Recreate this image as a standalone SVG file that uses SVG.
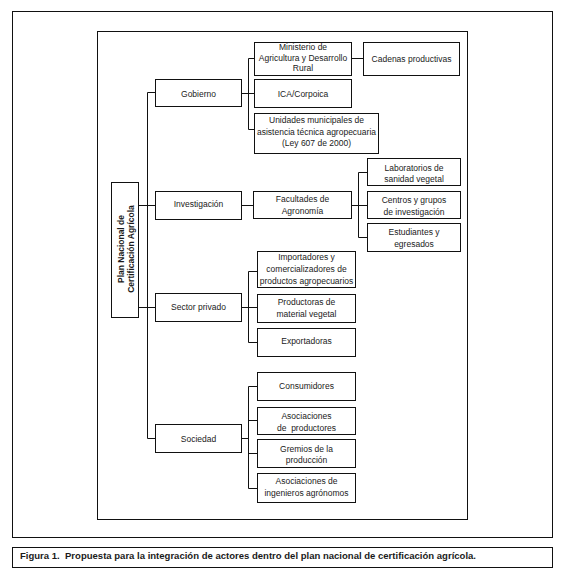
<svg xmlns="http://www.w3.org/2000/svg" width="564" height="582" viewBox="0 0 564 582">
<style>
.frame{fill:none;stroke:#111;stroke-width:1}
.box{fill:#fff;stroke:#111;stroke-width:1}
.t{font-family:"Liberation Sans",Arial,sans-serif;font-size:8.5px;fill:#1a1a1a;text-anchor:middle}
.b{font-weight:bold}
.ln{fill:none;stroke:#111;stroke-width:1}
</style>
<rect x="0" y="0" width="564" height="582" fill="#fff"/>
<rect class="frame" x="12.5" y="11.5" width="540" height="526"/>
<rect class="frame" x="97.5" y="31.5" width="370" height="488"/>
<rect class="frame" x="12.5" y="547.5" width="540" height="20"/>
<text class="t b" x="20" y="558.5" style="text-anchor:start;font-size:9.5px" textLength="456" lengthAdjust="spacingAndGlyphs" xml:space="preserve">Figura 1.  Propuesta para la integración de actores dentro del plan nacional de certificación agrícola.</text>

<g id="connectors">
<path class="ln" d="M155 92.5H147.5V438.5H155"/>
<path class="ln" d="M138 205.5H155M138 307.5H155"/>
<path class="ln" d="M241 93.5H248.5M254 58.5H248.5V129.5H254M248.5 93.5H254"/>
<path class="ln" d="M351 58.5H363"/>
<path class="ln" d="M241 205.5H253"/>
<path class="ln" d="M351 205.5H367M367 172.5H358.5V237.5H367"/>
<path class="ln" d="M241 307.5H257M257 271.5H248.5V342.5H257"/>
<path class="ln" d="M241 438.5H248.5M257 386.5H248.5V488.5H257M248.5 420.5H257M248.5 453.5H257"/>
</g>

<g id="plan">
<rect class="box" x="111.5" y="182.5" width="27" height="135"/>
<text class="t b" transform="translate(123.5 249) rotate(-90)">Plan Nacional de</text>
<text class="t b" transform="translate(133.5 249) rotate(-90)">Certificación Agrícola</text>
</g>

<g id="gobierno">
<rect class="box" x="155.5" y="79.5" width="86" height="27"/>
<text class="t" x="198.5" y="96.5">Gobierno</text>
</g>
<g id="investigacion">
<rect class="box" x="155.5" y="191.5" width="86" height="28"/>
<text class="t" x="198.5" y="207">Investigación</text>
</g>
<g id="sector-privado">
<rect class="box" x="155.5" y="293.5" width="86" height="28"/>
<text class="t" x="198.5" y="309.5">Sector privado</text>
</g>
<g id="sociedad">
<rect class="box" x="155.5" y="424.5" width="86" height="28"/>
<text class="t" x="198.5" y="442">Sociedad</text>
</g>

<g id="ministerio">
<rect class="box" x="254.5" y="42.5" width="97" height="33"/>
<text class="t" x="303" y="50">Ministerio de</text>
<text class="t" x="303" y="61">Agricultura y Desarrollo</text>
<text class="t" x="303" y="71">Rural</text>
</g>
<g id="cadenas">
<rect class="box" x="363.5" y="42.5" width="96" height="33"/>
<text class="t" x="411.5" y="62">Cadenas productivas</text>
</g>
<g id="ica">
<rect class="box" x="254.5" y="79.5" width="97" height="28"/>
<text class="t" x="303" y="96.5">ICA/Corpoica</text>
</g>
<g id="unidades">
<rect class="box" x="254.5" y="113.5" width="124" height="40"/>
<text class="t" x="316.5" y="123">Unidades municipales de</text>
<text class="t" x="316.5" y="134.5">asistencia técnica agropecuaria</text>
<text class="t" x="316.5" y="145.5">(Ley 607 de 2000)</text>
</g>

<g id="facultades">
<rect class="box" x="253.5" y="191.5" width="98" height="27"/>
<text class="t" x="302.5" y="202">Facultades de</text>
<text class="t" x="302.5" y="214">Agronomía</text>
</g>
<g id="laboratorios">
<rect class="box" x="367.5" y="158.5" width="93" height="27"/>
<text class="t" x="414" y="170.5">Laboratorios de</text>
<text class="t" x="414" y="182">sanidad vegetal</text>
</g>
<g id="centros">
<rect class="box" x="367.5" y="191.5" width="93" height="27"/>
<text class="t" x="414" y="202.5">Centros y grupos</text>
<text class="t" x="414" y="214.5">de investigación</text>
</g>
<g id="estudiantes">
<rect class="box" x="367.5" y="223.5" width="93" height="28"/>
<text class="t" x="414" y="234.5">Estudiantes y</text>
<text class="t" x="414" y="246.5">egresados</text>
</g>

<g id="importadores">
<rect class="box" x="257.5" y="251.5" width="98" height="36"/>
<text class="t" x="306.5" y="260">Importadores y</text>
<text class="t" x="306.5" y="272">comercializadores de</text>
<text class="t" x="306.5" y="284">productos agropecuarios</text>
</g>
<g id="productoras">
<rect class="box" x="257.5" y="294.5" width="98" height="28"/>
<text class="t" x="306.5" y="305">Productoras de</text>
<text class="t" x="306.5" y="316.5">material vegetal</text>
</g>
<g id="exportadoras">
<rect class="box" x="257.5" y="328.5" width="98" height="28"/>
<text class="t" x="306.5" y="344">Exportadoras</text>
</g>

<g id="consumidores">
<rect class="box" x="257.5" y="372.5" width="98" height="28"/>
<text class="t" x="306.5" y="389">Consumidores</text>
</g>
<g id="asoc-productores">
<rect class="box" x="257.5" y="407.5" width="98" height="27"/>
<text class="t" x="306.5" y="419">Asociaciones</text>
<text class="t" x="306.5" y="431" xml:space="preserve">de  productores</text>
</g>
<g id="gremios">
<rect class="box" x="257.5" y="439.5" width="98" height="28"/>
<text class="t" x="306.5" y="451.5">Gremios de la</text>
<text class="t" x="306.5" y="462.5">producción</text>
</g>
<g id="asoc-ingenieros">
<rect class="box" x="257.5" y="473.5" width="98" height="29"/>
<text class="t" x="306.5" y="483.5">Asociaciones de</text>
<text class="t" x="306.5" y="495.5">ingenieros agrónomos</text>
</g>
</svg>
